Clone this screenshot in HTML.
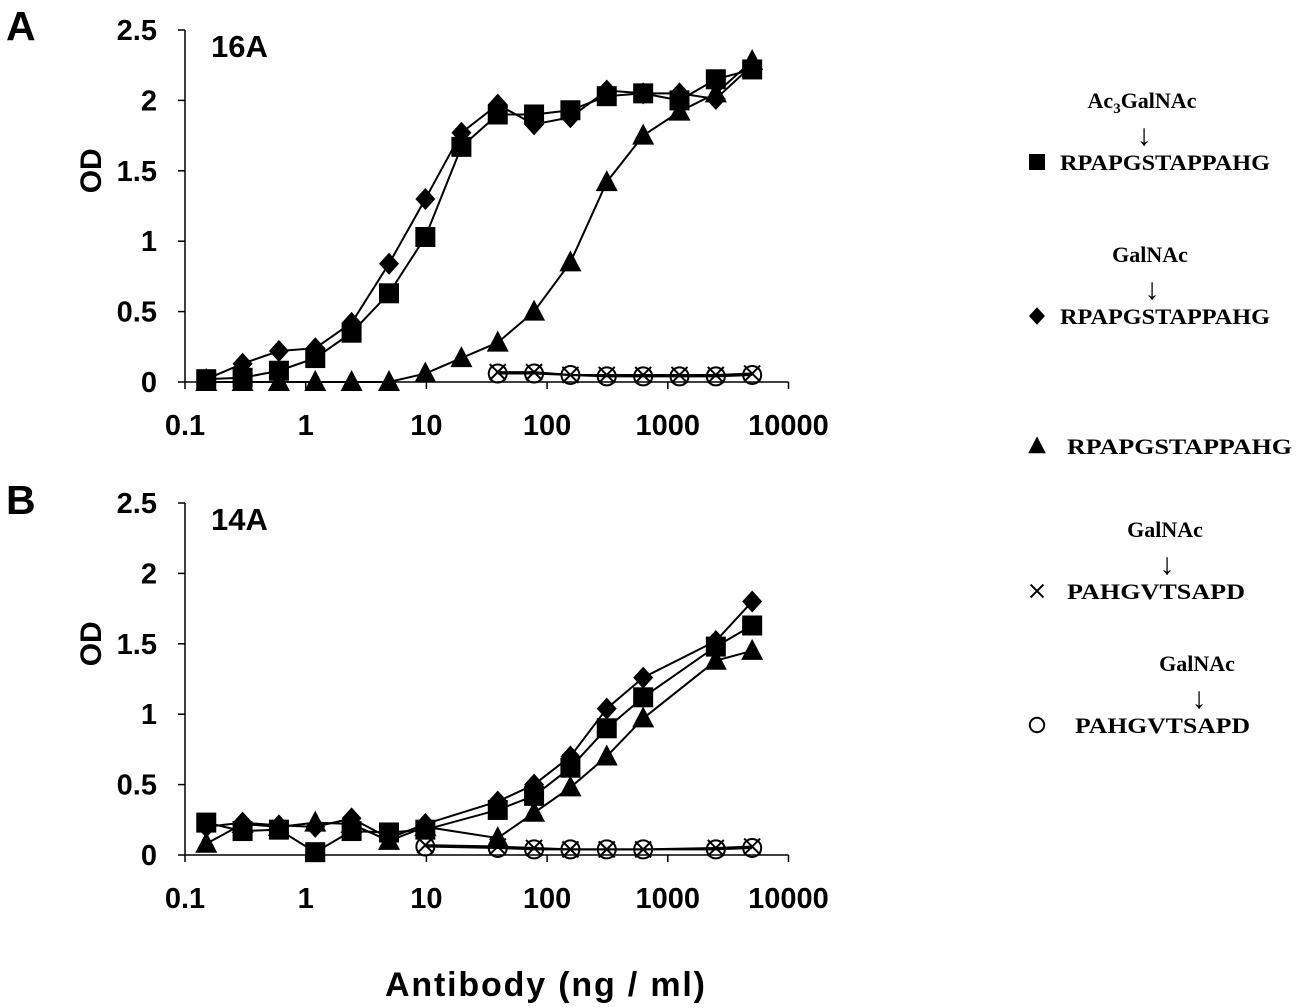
<!DOCTYPE html>
<html><head><meta charset="utf-8">
<style>
html,body{margin:0;padding:0;background:#fff;}
svg{display:block;}
.tick{font-family:"Liberation Sans",sans-serif;font-weight:bold;font-size:29px;fill:#000;}
.leg{font-family:"Liberation Serif",serif;font-weight:bold;font-size:22px;fill:#000;}
</style></head>
<body>
<svg id="chart" width="1299" height="1008" viewBox="0 0 1299 1008"></svg>
<script>
const xValues=[0.15,0.3,0.6,1.2,2.4,4.9,9.8,19.5,39,78,156,312,625,1250,2500,5000];
const yTicks=[0,0.5,1,1.5,2,2.5];
const yTickLabels=["0","0.5","1","1.5","2","2.5"];
const xTicks=[0.1,1,10,100,1000,10000];
const xTickLabels=["0.1","1","10","100","1000","10000"];
// Panel A (16A)
const aSquare=[0.02,0.03,0.08,0.17,0.35,0.63,1.03,1.67,1.90,1.90,1.93,2.03,2.05,2.00,2.15,2.22];
const aDiamond=[0.02,0.13,0.22,0.24,0.42,0.84,1.30,1.77,1.97,1.83,1.88,2.07,2.05,2.05,2.01,2.25];
const aTriangle=[0,0,0,0,0,0,0.06,0.17,0.28,0.50,0.85,1.42,1.75,1.92,2.05,2.28];
const aCross=[null,null,null,null,null,null,null,null,0.07,0.07,0.05,0.05,0.05,0.05,0.05,0.06];
const aCircle=[null,null,null,null,null,null,null,null,0.06,0.06,0.05,0.04,0.04,0.04,0.04,0.05];
// Panel B (14A)
const bSquare=[0.23,0.17,0.18,0.02,0.17,0.16,0.18,null,0.32,0.42,0.62,0.90,1.12,null,1.48,1.63];
const bDiamond=[0.20,0.23,0.21,0.20,0.26,0.12,0.22,null,0.38,0.50,0.70,1.04,1.26,null,1.52,1.80];
const bTriangle=[0.08,0.22,0.20,0.23,0.22,0.10,0.20,null,0.12,0.30,0.48,0.70,0.97,null,1.38,1.45];
const bCross=[null,null,null,null,null,null,0.07,null,0.06,0.05,0.04,0.04,0.04,null,0.05,0.06];
const bCircle=[null,null,null,null,null,null,0.06,null,0.05,0.04,0.04,0.04,0.04,null,0.04,0.05];

const NS="http://www.w3.org/2000/svg";
const svg=document.getElementById('chart');
function mk(tag,attrs,parent,txt){const e=document.createElementNS(NS,tag);for(const k in attrs)e.setAttribute(k,attrs[k]);if(txt!==undefined)e.textContent=txt;(parent||svg).appendChild(e);return e;}
const X0=185,DEC=120.7;
function xScale(v){return X0+DEC*(Math.log10(v)+1);}

function panel(id,y0,label,letter,letterY,series){
  const g=mk('g',{});
  
  
  const yScale=v=>y0-v*140.8;
  const ya=mk('line',{x1:X0,y1:yScale(2.5),x2:X0,y2:y0,stroke:'#000','stroke-width':1.5},g);
  
  
  const xa=mk('line',{x1:X0,y1:y0,x2:xScale(10000),y2:y0,stroke:'#000','stroke-width':1.5},g);
  
  
  yTicks.forEach((t,i)=>{
    mk('line',{x1:X0-7,y1:yScale(t),x2:X0,y2:yScale(t),stroke:'#000','stroke-width':1.5},g);
    const tl=mk('text',{x:X0-28,y:yScale(t)+10,'text-anchor':'end',class:'tick'},g,yTickLabels[i]);
    
    
  });
  xTicks.forEach((t,i)=>{
    mk('line',{x1:xScale(t),y1:y0,x2:xScale(t),y2:y0+7,stroke:'#000','stroke-width':1.5},g);
    const tl=mk('text',{x:xScale(t),y:y0+53,'text-anchor':'middle',class:'tick'},g,xTickLabels[i]);
    
    
  });
  const od=mk('text',{x:0,y:0,transform:`translate(101,${yScale(1.5)}) rotate(-90)`,'text-anchor':'middle',class:'tick',style:'font-size:30px'},g,'OD');
  
  
  const pl=mk('text',{x:211,y:yScale(2.5)+27,class:'tick',style:'font-size:31px'},g,label);
  
  
  const lt=mk('text',{x:6,y:letterY,class:'tick',style:'font-size:41px'},g,letter);
  
  
  series.forEach(s=>{
    const sg=mk('g',{},g);
    
    
    const pts=[];
    s.data.forEach((v,i)=>{if(v!==null&&v!==undefined)pts.push([xScale(xValues[i]),yScale(v)]);});
    const ln=mk('polyline',{points:pts.map(p=>p.join(',')).join(' '),fill:'none',stroke:'#000','stroke-width':2},sg);
    
    
    pts.forEach(p=>{
      const m=marker(s.shape,p[0],p[1],sg,1);
      
      
    });
  });
}
function marker(shape,x,y,parent,k){
  if(shape==='square')return mk('rect',{x:x-10*k,y:y-10*k,width:20*k,height:20*k,fill:'#000'},parent);
  if(shape==='diamond')return mk('polygon',{points:`${x},${y-11*k} ${x+10*k},${y} ${x},${y+11*k} ${x-10*k},${y}`,fill:'#000'},parent);
  if(shape==='triangle')return mk('polygon',{points:`${x},${y-12*k} ${x+11*k},${y+9*k} ${x-11*k},${y+9*k}`,fill:'#000'},parent);
  if(shape==='circle')return mk('circle',{cx:x,cy:y,r:9*k,fill:'none',stroke:'#000','stroke-width':2},parent);
  if(shape==='cross')return mk('path',{d:`M${x-8*k},${y-8*k}L${x+8*k},${y+8*k}M${x+8*k},${y-8*k}L${x-8*k},${y+8*k}`,stroke:'#000','stroke-width':2},parent);
}
panel('panel-a',382,'16A','A',40,[
  {name:'triangle',shape:'triangle',data:aTriangle},
  {name:'diamond',shape:'diamond',data:aDiamond},
  {name:'square',shape:'square',data:aSquare},
  {name:'circle',shape:'circle',data:aCircle},
  {name:'cross',shape:'cross',data:aCross}
]);
panel('panel-b',855,'14A','B',514,[
  {name:'triangle',shape:'triangle',data:bTriangle},
  {name:'diamond',shape:'diamond',data:bDiamond},
  {name:'square',shape:'square',data:bSquare},
  {name:'circle',shape:'circle',data:bCircle},
  {name:'cross',shape:'cross',data:bCross}
]);
const xt=mk('text',{x:385,y:996,class:'tick',style:'font-size:34px',textLength:320,lengthAdjust:'spacing'},svg,'Antibody (ng / ml)');



const lg=mk('g',{});


function legEntry(name,shape,my,tx,glyco,gx){
  const e=mk('g',{},lg);
  
  
  marker(shape,1037,my,e,0.8);
  const pep=shape==='circle'||shape==='cross';
  mk('text',{x:tx,y:my+8,class:'leg',textLength:pep?(shape==='circle'?175:178):(shape==='triangle'?225:210),lengthAdjust:'spacingAndGlyphs'},e,pep?'PAHGVTSAPD':'RPAPGSTAPPAHG');
  if(glyco){
    const gt=mk('text',{x:gx,y:my-54,'text-anchor':'middle',class:'leg'},e);
    if(glyco==='Ac3'){
      mk('tspan',{},gt,'Ac');mk('tspan',{style:'font-size:15px',dy:5},gt,'3');mk('tspan',{dy:-5},gt,'GalNAc');
    } else gt.textContent='GalNAc';
    mk('text',{x:gx+2,y:my-17,'text-anchor':'middle',class:'leg',style:'font-size:30px;font-weight:normal'},e,'↓');
  }
}
legEntry('ac3galnac-rpapgstappahg','square',162,1060,'Ac3',1142);
legEntry('galnac-rpapgstappahg','diamond',316,1060,'GalNAc',1150);
legEntry('rpapgstappahg','triangle',446,1067,null,0);
legEntry('galnac-pahgvtsapd-cross','cross',591,1067,'GalNAc',1165);
legEntry('galnac-pahgvtsapd-circle','circle',725,1075,'GalNAc',1197);
</script>
</body></html>
